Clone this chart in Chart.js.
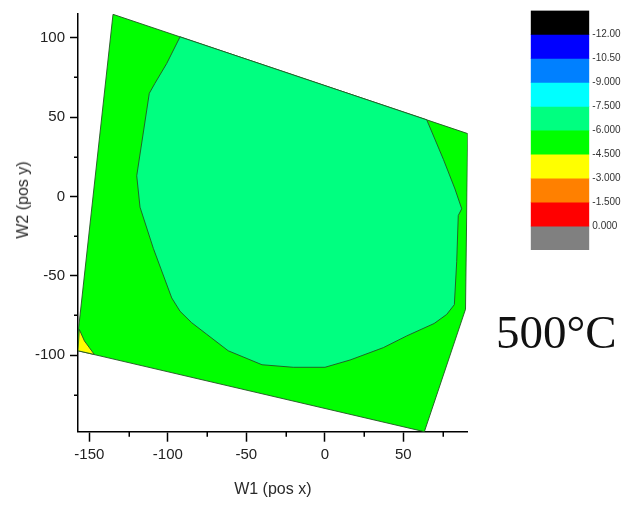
<!DOCTYPE html>
<html>
<head>
<meta charset="utf-8">
<script src="https://cdn.jsdelivr.net/npm/chart.js@4.4.1/dist/chart.umd.min.js"></script>
<style>
  html, body { margin: 0; padding: 0; background: #fff; }
  body { width: 625px; height: 506px; position: relative; overflow: hidden;
         font-family: 'Liberation Sans', Arial, sans-serif; }
  #main { position: absolute; left: 0; top: 0; }
  #cbar { position: absolute; left: 520px; top: 0; }
  #ytitle { position: absolute; left: 22.5px; top: 200px; white-space: nowrap;
            transform: translate(-50%, -50%) rotate(-90deg);
            font-size: 16px; line-height: 16px; color: #2a2a2a; }
  #temp { position: absolute; left: 496px; top: 309px; white-space: nowrap;
          font-family: 'Liberation Serif', 'DejaVu Serif', serif;
          font-size: 47px; line-height: 47px; color: #111; }
</style>
</head>
<body>
<canvas id="main" width="625" height="506"></canvas>
<canvas id="cbar" width="105" height="262"></canvas>
<div id="ytitle">W2 (pos y)</div>
<div id="temp">500°C</div>
<script>
// Axis ranges and tick positions
const xRange = [-157.2, 91.0];
const yRange = [-148.3, 115.0];
const xMajorTicks = [-150, -100, -50, 0, 50];
const xMinorTicks = [-125, -75, -25, 25, 75];
const yMajorTicks = [-100, -50, 0, 50, 100];
const yMinorTicks = [-125, -75, -25, 25, 75];

// Contour levels (colour scale, top to bottom)
const levelBounds = [-13.5, -12, -10.5, -9, -7.5, -6, -4.5, -3, -1.5, 0, 1.5];
const levelColors = ['#000000', '#0000ff', '#0080ff', '#00ffff', '#00ff80',
                     '#00ff00', '#ffff00', '#ff8000', '#ff0000', '#808080'];
const cbarTicks = [-12, -10.5, -9, -7.5, -6, -4.5, -3, -1.5, 0];
const cbarTickLabels = ['-12.00', '-10.50', '-9.000', '-7.500', '-6.000',
                        '-4.500', '-3.000', '-1.500', '0.000'];

// Region in the -6.0 .. -4.5 band (whole measured domain)
const bandGreen = [
  [-134.9, 114.8], [91.0, 39.6], [89.6, -71.1], [63.4, -148.3],
  [-157.2, -97.3], [-157.2, -86.5], [-134.9, 114.8]
];
// Region in the -7.5 .. -6.0 band
const bandSpring = [
  [-92.2, 100.6], [64.9, 48.3], [75.5, 23.4], [82.9, 4.7], [87.2, -7.8],
  [85.0, -12.0], [84.0, -41.1], [82.5, -68.2], [77.6, -74.4], [69.6, -80.1],
  [52.2, -87.9], [37.3, -95.3], [16.1, -103.1], [0.1, -107.7], [-20.1, -107.7],
  [-40.0, -106.1], [-61.5, -97.3], [-75.2, -86.9], [-84.8, -79.6], [-92.2, -72.4],
  [-97.5, -64.0], [-109.2, -32.8], [-117.7, -6.8], [-119.8, 13.0], [-111.8, 65.0],
  [-108.2, 71.3], [-100.7, 83.8], [-92.2, 100.6]
];
// Region in the -4.5 .. -3.0 band
const bandYellow = [
  [-156.4, -83.8], [-153.1, -91.1], [-146.8, -99.6], [-157.2, -97.3], [-156.4, -83.8]
];

Chart.defaults.font.family = "'Liberation Sans', Arial, sans-serif";

function region(points, color, order) {
  return {
    data: points.map(([x, y]) => ({ x, y })),
    backgroundColor: color,
    borderColor: 'rgba(35, 85, 35, 0.9)',
    borderWidth: 1,
    fill: 'shape',
    pointRadius: 0,
    tension: 0,
    order
  };
}

// Short unlabelled ticks between the labelled ones
const minorTickPlugin = {
  id: 'minorTicks',
  afterDraw(chart) {
    const { ctx, chartArea: a } = chart;
    const { x, y } = chart.scales;
    ctx.save();
    ctx.strokeStyle = '#000';
    ctx.lineWidth = 1.5;
    ctx.beginPath();
    xMinorTicks.forEach(v => {
      const px = Math.round(x.getPixelForValue(v)) + 0.25;
      ctx.moveTo(px, a.bottom);
      ctx.lineTo(px, a.bottom + 5);
    });
    yMinorTicks.forEach(v => {
      const py = Math.round(y.getPixelForValue(v)) + 0.25;
      ctx.moveTo(a.left, py);
      ctx.lineTo(a.left - 4, py);
    });
    ctx.stroke();
    ctx.restore();
  }
};

const axisCommon = {
  type: 'linear',
  border: { display: true, color: '#000', width: 1.5 },
  ticks: { color: '#222', font: { size: 15 }, autoSkip: false, maxRotation: 0 }
};

new Chart(document.getElementById('main'), {
  type: 'line',
  data: {
    datasets: [
      region(bandGreen, levelColors[5], 3),
      region(bandSpring, levelColors[4], 2),
      region(bandYellow, levelColors[6], 1)
    ]
  },
  options: {
    responsive: false,
    animation: false,
    events: [],
    layout: { padding: { top: 10, right: 157.3, left: 0, bottom: 0 } },
    plugins: { legend: { display: false }, tooltip: { enabled: false } },
    scales: {
      x: {
        ...axisCommon,
        position: 'bottom',
        min: xRange[0], max: xRange[1],
        afterBuildTicks: s => { s.ticks = xMajorTicks.map(v => ({ value: v })); },
        afterFit: s => { s.height = 74.3; },
        grid: { drawOnChartArea: false, drawTicks: true, tickLength: 10,
                tickColor: '#000', tickWidth: 1.5 },
        ticks: { ...axisCommon.ticks, padding: 4 },
        title: { display: true, text: 'W1 (pos x)', color: '#2a2a2a',
                 font: { size: 16 }, padding: { top: 0, bottom: 7 } }
      },
      y: {
        ...axisCommon,
        position: 'left',
        min: yRange[0], max: yRange[1],
        afterBuildTicks: s => { s.ticks = yMajorTicks.map(v => ({ value: v })); },
        afterFit: s => { s.width = 78; },
        grid: { drawOnChartArea: false, drawTicks: true, tickLength: 8,
                tickColor: '#000', tickWidth: 1.5 },
        ticks: { ...axisCommon.ticks, padding: 5 }
      }
    }
  },
  plugins: [minorTickPlugin]
});

// Colour scale
new Chart(document.getElementById('cbar'), {
  type: 'bar',
  data: {
    labels: [''],
    datasets: levelColors.map((c, i) => ({
      data: [[levelBounds[i], levelBounds[i + 1]]],
      backgroundColor: c,
      borderWidth: 0,
      grouped: false,
      barPercentage: 1,
      categoryPercentage: 1
    }))
  },
  options: {
    responsive: false,
    animation: false,
    events: [],
    layout: { padding: { left: 10.7, top: 10.5, bottom: 12, right: 0 } },
    plugins: { legend: { display: false }, tooltip: { enabled: false } },
    scales: {
      x: { display: false },
      y: {
        position: 'right',
        reverse: true,
        min: levelBounds[0], max: levelBounds[levelBounds.length - 1],
        afterBuildTicks: s => { s.ticks = cbarTicks.map(v => ({ value: v })); },
        afterFit: s => { s.width = 35.7; },
        grid: { display: false, drawTicks: false },
        border: { display: false },
        ticks: { padding: 3, color: '#333', font: { size: 10 },
                 callback: (v, i) => cbarTickLabels[i] }
      }
    }
  }
});
</script>
</body>
</html>
